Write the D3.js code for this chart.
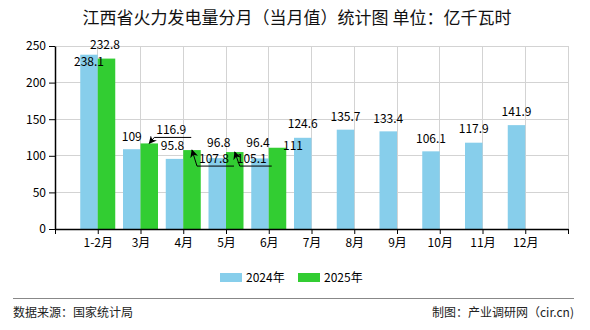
<!DOCTYPE html>
<html><head><meta charset="utf-8">
<script src="https://cdn.jsdelivr.net/npm/d3@7/dist/d3.min.js"></script>
<style>
html,body{margin:0;padding:0;background:#fff;}
text{font-family:"Noto Sans CJK SC","Liberation Sans",sans-serif;}
</style></head>
<body>
<svg id="chart" width="590" height="330"></svg>
<script>
const categories = ["1-2月","3月","4月","5月","6月","7月","8月","9月","10月","11月","12月"];
const values2024 = [238.1,109,95.8,96.8,96.4,124.6,135.7,133.4,106.1,117.9,141.9];
const values2025 = [232.8,116.9,107.8,105.1,111];
const seriesNames = ["2024年","2025年"];
const yTicks = [0,50,100,150,200,250];
const titleText = "江西省火力发电量分月（当月值）统计图 单位：亿千瓦时";
const sourceText = "数据来源：国家统计局";
const creditText = "制图：产业调研网（cir.cn)";

// label placement tweaks (layout only): [dx, dy, leader]
const labelAdj2024 = [[0,11.5,0],[0,-8.5,0],[-2,-8.5,0],[1.5,-11.4,0],[-2,-11.7,0],[0,-9.5,0],[0,-9,0],[0,-8,0],[0,-8.6,0],[0,-9.4,0],[0,-9,0]];
const labelAdj2025 = [[-1.5,-9.3,0],[22,-9,1],[22,13,1],[17,11,1],[15.5,2.3,0]];

const colors = ["#87CEEB","#32CD32"];
const svg = d3.select("#chart");
const L = 55, R = 568, T = 46, B = 229;
const x = d3.scalePoint().domain(categories).range([L, R]).padding(1);
const y = d3.scaleLinear().domain([0, 250]).range([B, T]);
const bw = 17.5;

svg.append("defs").append("marker")
  .attr("id","arrow").attr("viewBox","0 0 10 10").attr("refX",9).attr("refY",5)
  .attr("markerWidth",8).attr("markerHeight",8).attr("markerUnits","userSpaceOnUse")
  .attr("orient","auto-start-reverse")
  .append("path").attr("d","M10,5 L0,0 L3,5 L0,10 Z").attr("fill","#000");

// title
svg.append("text").attr("x",297).attr("y",24).attr("text-anchor","middle")
  .attr("font-size",17).attr("fill","#111").text(titleText);

// grid
const grid = svg.append("g");
grid.selectAll(".hg").data(yTicks.filter(d=>d>0)).join("line")
  .attr("x1",L).attr("x2",R).attr("y1",d=>y(d)).attr("y2",d=>y(d))
  .attr("stroke","#d3d3d3").attr("stroke-width",1).attr("shape-rendering","crispEdges");
grid.selectAll(".vg").data(categories.map(c=>x(c)).concat([R])).join("line")
  .attr("x1",d=>d).attr("x2",d=>d).attr("y1",T).attr("y2",B)
  .attr("stroke","#d3d3d3").attr("stroke-width",1).attr("shape-rendering","crispEdges");

// bars
svg.append("g").selectAll("rect").data(values2024).join("rect")
  .attr("x",(d,i)=>x(categories[i])-bw).attr("y",d=>y(d))
  .attr("width",bw).attr("height",d=>B-y(d)).attr("fill",colors[0]);
svg.append("g").selectAll("rect").data(values2025).join("rect")
  .attr("x",(d,i)=>x(categories[i])).attr("y",d=>y(d))
  .attr("width",bw).attr("height",d=>B-y(d)).attr("fill",colors[1]);

// axes
const yAxis = svg.append("g").attr("transform",`translate(${L},0)`)
  .call(d3.axisLeft(y).tickValues(yTicks).tickSize(6).tickSizeOuter(0).tickPadding(3));
const xAxis = svg.append("g").attr("transform",`translate(0,${B})`)
  .call(d3.axisBottom(x).tickSize(5).tickSizeOuter(0).tickPadding(4));
xAxis.append("line").attr("x1",L+0.5).attr("x2",L+0.5).attr("y1",0).attr("y2",5).attr("stroke","#000");
xAxis.append("line").attr("x1",R+0.5).attr("x2",R+0.5).attr("y1",0).attr("y2",5).attr("stroke","#000");
[yAxis,xAxis].forEach(a=>{
  a.selectAll("path.domain").attr("stroke","#000").attr("stroke-width",1.5);
  a.selectAll(".tick line").attr("stroke","#000");
  a.selectAll("text").attr("font-size",12).attr("fill","#000")
   .style("font-family",'"Noto Sans CJK SC","Liberation Sans",sans-serif');
});

// value labels
function addLabels(vals, adj, offset){
  const g = svg.append("g");
  vals.forEach((v,i)=>{
    const cx = x(categories[i]) + offset;
    const top = y(v);
    const [dx,dy,lead] = adj[i];
    const t = g.append("text").attr("x",cx+dx).attr("y",top+dy)
      .attr("text-anchor","middle").attr("font-size",12).attr("fill","#000").text(v);
    if(lead){
      const w = t.node().getComputedTextLength();
      const ly = top+dy+3;
      const right = cx+dx+w/2;
      g.append("path")
        .attr("d",`M${cx},${top} L${cx+5},${ly} L${right+5},${ly}`)
        .attr("fill","none").attr("stroke","#000").attr("stroke-width",1)
        .attr("marker-start","url(#arrow)");
    }
  });
}
addLabels(values2024, labelAdj2024, -bw/2);
addLabels(values2025, labelAdj2025, bw/2);

// legend
const lg = svg.append("g").attr("transform","translate(220,273)");
seriesNames.forEach((n,i)=>{
  const gx = i*78;
  lg.append("rect").attr("x",gx).attr("y",0).attr("width",22).attr("height",9).attr("fill",colors[i]);
  lg.append("text").attr("x",gx+26).attr("y",9).attr("font-size",12).attr("fill","#000").text(n);
});

// footer
svg.append("line").attr("x1",13).attr("x2",574).attr("y1",298.5).attr("y2",298.5)
  .attr("stroke","#888").attr("stroke-width",1);
svg.append("text").attr("x",13).attr("y",317).attr("font-size",12).attr("fill","#222").text(sourceText);
svg.append("text").attr("x",574).attr("y",317).attr("text-anchor","end").attr("font-size",12).attr("fill","#222").text(creditText);
</script>
</body></html>
